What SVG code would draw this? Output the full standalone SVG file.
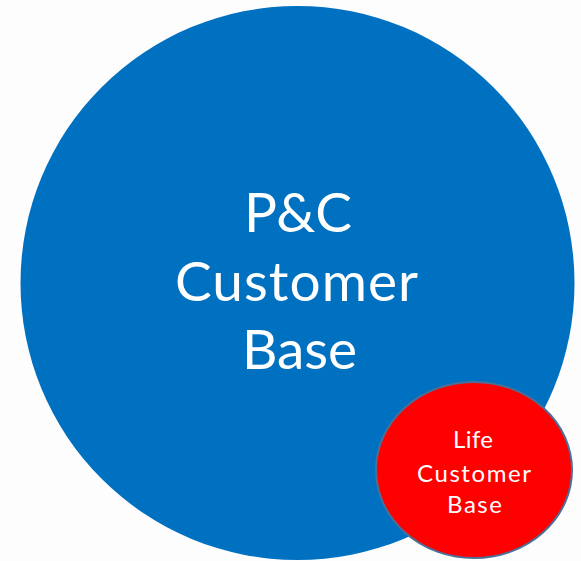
<svg xmlns="http://www.w3.org/2000/svg" width="581" height="561" viewBox="0 0 581 561">
  <style>
    .label { font-family: Lato, "Open Sans", "Liberation Sans", sans-serif; fill: #FFFFFF; text-anchor: middle; }
    .big { font-size: 55px; }
    .small { font-size: 24px; }
  </style>
  <rect x="0" y="0" width="581" height="561" fill="#FDFDFD"/>
  <g id="pc-customer-base">
    <circle cx="297.5" cy="283" r="277" fill="#0070C0"/>
    <text class="label big" x="298" y="232" textLength="108">P&amp;C</text>
    <text class="label big" x="296.5" y="301" textLength="243">Customer</text>
    <text class="label big" x="299.5" y="369" textLength="115">Base</text>
  </g>
  <g id="life-customer-base">
    <ellipse cx="474" cy="470" rx="98" ry="88" fill="#FF0000" stroke="#4A6F98" stroke-width="2"/>
    <text class="label small" x="473" y="448" textLength="40">Life</text>
    <text class="label small" x="474" y="482" textLength="114">Customer</text>
    <text class="label small" x="474.5" y="513" textLength="55">Base</text>
  </g>
  <g id="connectors"/>
</svg>
